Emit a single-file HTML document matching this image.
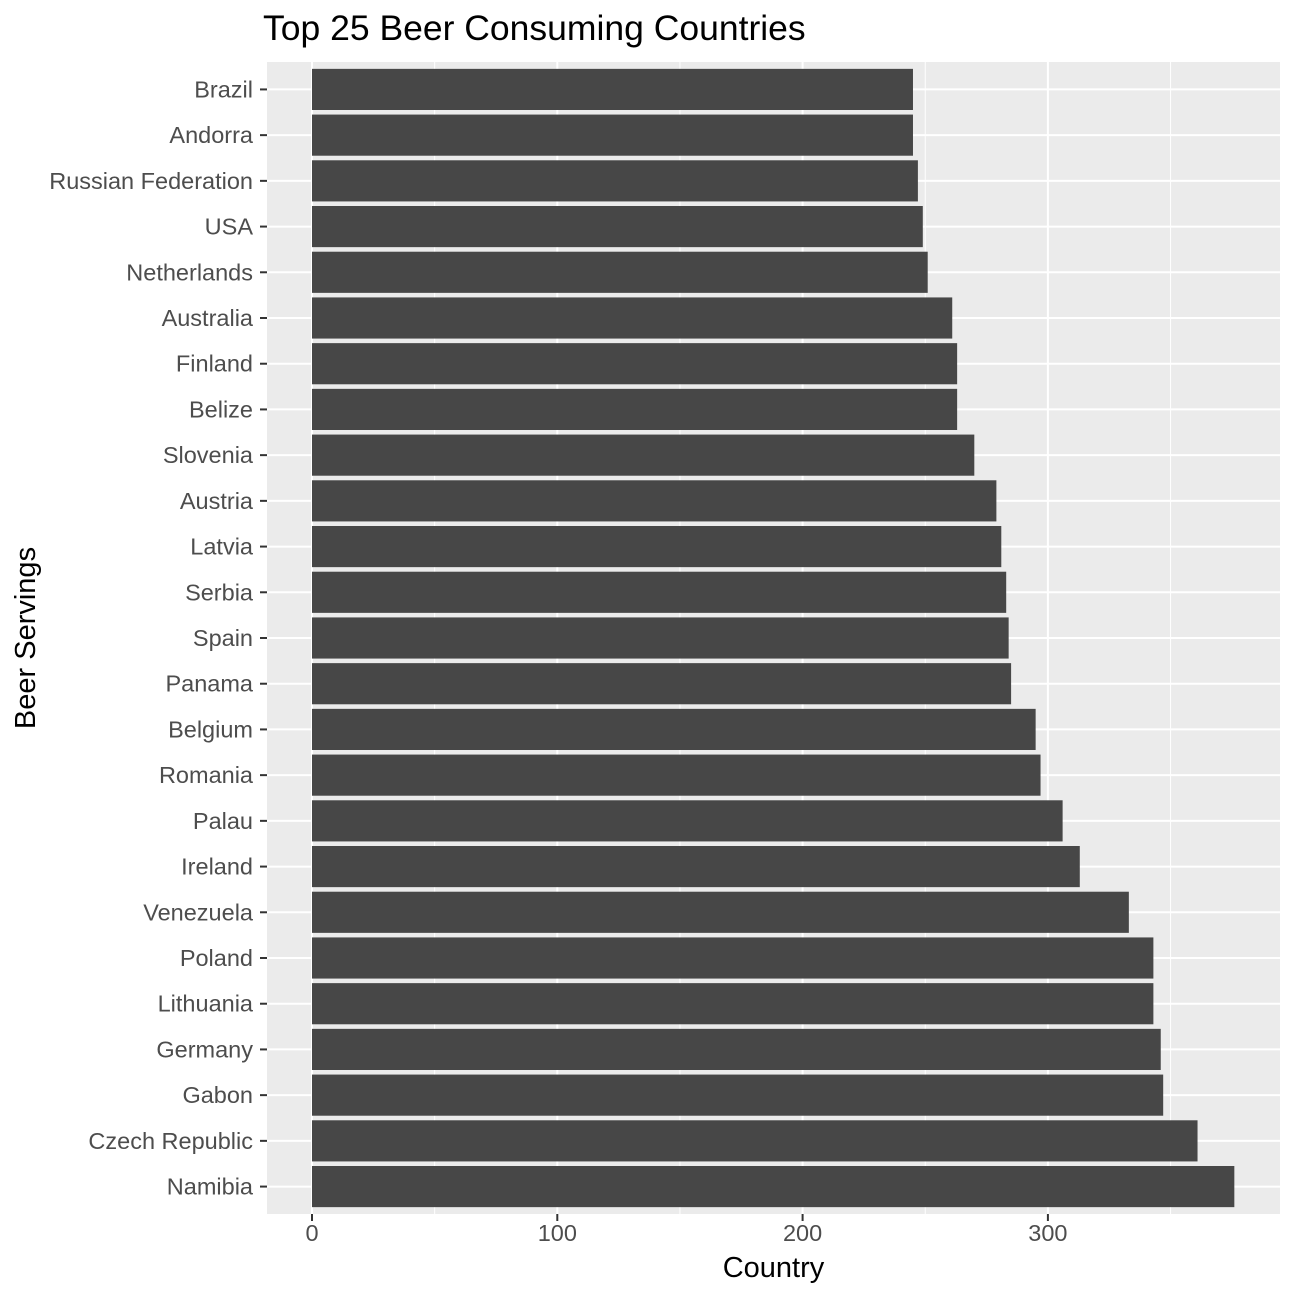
<!DOCTYPE html>
<html><head><meta charset="utf-8"><style>body{margin:0;background:#fff}svg{display:block;font-family:"Liberation Sans",Arial,sans-serif}</style></head>
<body>
<svg id="chart" width="1296" height="1296" xmlns="http://www.w3.org/2000/svg"></svg>
<script>
const countries=["Brazil","Andorra","Russian Federation","USA","Netherlands","Australia","Finland","Belize","Slovenia","Austria","Latvia","Serbia","Spain","Panama","Belgium","Romania","Palau","Ireland","Venezuela","Poland","Lithuania","Germany","Gabon","Czech Republic","Namibia"];
const servings=[245,245,247,249,251,261,263,263,270,279,281,283,284,285,295,297,306,313,333,343,343,346,347,361,376];
const xTicks=[0,100,200,300];
const xMinor=[50,150,250,350];
const NS="http://www.w3.org/2000/svg";
const svg=document.getElementById('chart');
const L=267,R=1280,T=62,B=1214;
const x0=312,k=2.453;
const x=v=>x0+v*k;
const step=(B-T)/25.2;
const y=i=>T+step*(0.6+i);
function el(t,a,p){const e=document.createElementNS(NS,t);for(const q in a)e.setAttribute(q,a[q]);(p||svg).appendChild(e);return e;}
const panel=el('rect',{x:L,y:T,width:R-L,height:B-T,fill:'#ebebeb'});


xMinor.forEach(v=>{const g=el('line',{x1:x(v),x2:x(v),y1:T,y2:B,stroke:'#fff','stroke-width':1});

});
xTicks.forEach(v=>{const g=el('line',{x1:x(v),x2:x(v),y1:T,y2:B,stroke:'#fff','stroke-width':2});

});
countries.forEach((c,i)=>{const g=el('line',{x1:L,x2:R,y1:y(i),y2:y(i),stroke:'#fff','stroke-width':2});

});
countries.forEach((c,i)=>{
const bw=step*0.9;
const b=el('rect',{x:x(0),y:y(i)-bw/2,width:x(servings[i])-x(0),height:bw,fill:'#474747'});


const tk=el('line',{x1:L-7,x2:L,y1:y(i),y2:y(i),stroke:'#333','stroke-width':2});


const t=el('text',{x:L-14,y:y(i)+8,'text-anchor':'end','font-size':'23.5',fill:'#4d4d4d'});
t.textContent=c;


});
xTicks.forEach(v=>{
const tk=el('line',{x1:x(v),x2:x(v),y1:B,y2:B+7,stroke:'#333','stroke-width':2});


const t=el('text',{x:x(v),y:B+27,'text-anchor':'middle','font-size':'23.5',fill:'#4d4d4d'});
t.textContent=v;


});
const xt=el('text',{x:(L+R)/2,y:1277,'text-anchor':'middle','font-size':'29',fill:'#000'});
xt.textContent='Country';


const yt=el('text',{x:0,y:0,transform:'translate(35,638) rotate(-90)','text-anchor':'middle','font-size':'29',fill:'#000'});
yt.textContent='Beer Servings';


const tt=el('text',{x:L-4,y:40,'font-size':'35.5',fill:'#000'});
tt.textContent='Top 25 Beer Consuming Countries';


</script>
</body></html>
